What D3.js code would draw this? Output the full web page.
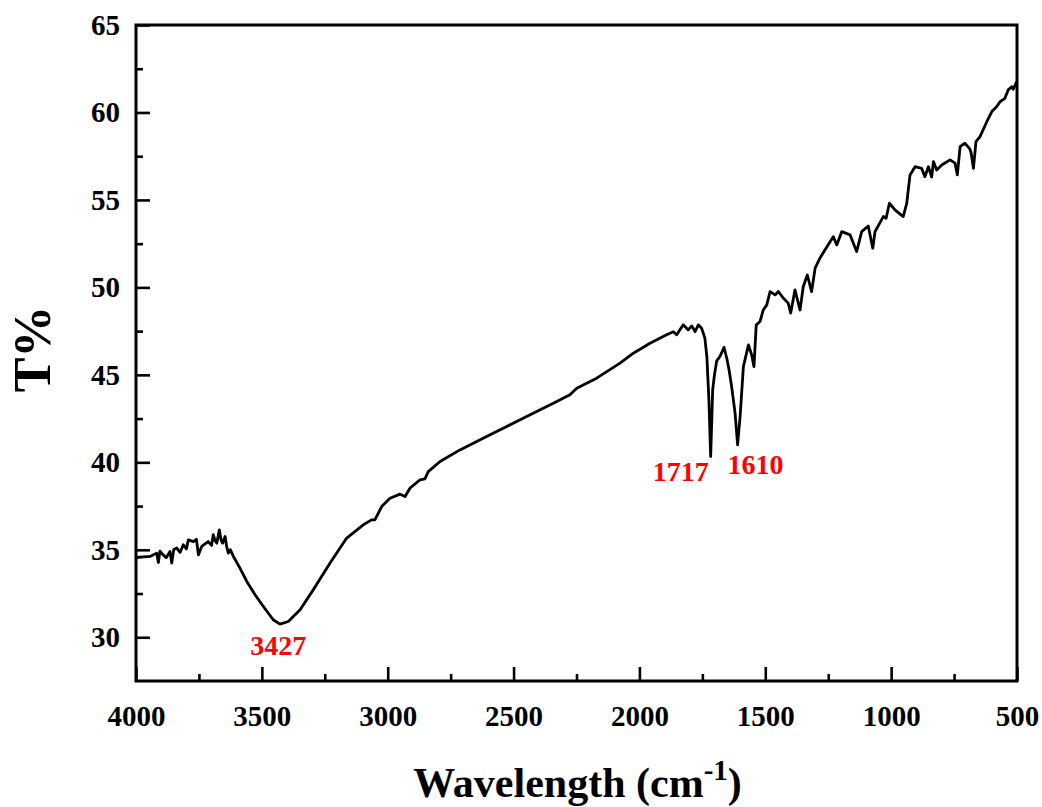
<!DOCTYPE html>
<html>
<head>
<meta charset="utf-8">
<script src="https://cdn.jsdelivr.net/npm/d3@7"></script>
<style>
body { margin: 0; background: #fff; }
text { font-family: "Liberation Serif", "Times New Roman", serif; font-weight: bold; }
</style>
</head>
<body>
<svg id="chart" width="1042" height="807"></svg>
<script>
/* spectrum */
var wavenumber = [3997, 3970, 3944, 3918, 3911, 3905, 3892, 3880, 3865, 3858, 3850, 3838, 3825, 3812, 3800, 3792, 3772, 3760, 3752, 3739,
	3713, 3700, 3693, 3685, 3679, 3669, 3662, 3656, 3646, 3640, 3633, 3625, 3613, 3587, 3560, 3527, 3494, 3455, 3428, 3395, 3348, 3296, 3229,
	3163, 3097, 3064, 3051, 3024, 2991, 2951, 2931, 2911, 2872, 2852, 2839, 2792, 2713, 2607, 2474, 2342, 2276,
	2249, 2170, 2077, 2024, 1958, 1892, 1865, 1852, 1826, 1806, 1792, 1779, 1766, 1753, 1740, 1732, 1724, 1717,
	1709, 1702, 1693, 1680, 1664, 1653, 1644, 1633, 1620, 1610, 1600, 1587, 1567, 1554, 1545, 1536, 1521, 1508,
	1494, 1481, 1461, 1448, 1428, 1409, 1399, 1382, 1362, 1349, 1333, 1316, 1302, 1283, 1263, 1230, 1216, 1196,
	1163, 1137, 1117, 1091, 1073, 1064, 1031, 1020, 1007, 985, 952, 938, 925, 905, 879, 866, 852, 839, 832, 819,
	799, 766, 746, 737, 726, 707, 689, 683, 673, 663, 647, 620, 600, 581, 567, 548, 535, 521, 515, 501];
var transmittance = [34.56, 34.60, 34.62, 34.81, 34.27, 34.92, 34.71, 34.55, 34.90, 34.24, 35.02, 35.10, 34.85, 35.29, 35.05, 35.57, 35.47, 35.60, 34.71, 35.19,
	35.47, 35.25, 35.86, 35.50, 35.38, 36.14, 35.55, 35.38, 35.76, 35.20, 34.81, 35.00, 34.62, 33.95, 33.19, 32.43, 31.76, 31.00, 30.75, 30.90, 31.57, 32.71, 34.24,
	35.67, 36.43, 36.71, 36.71, 37.47, 37.95, 38.18, 38.05, 38.53, 39.00, 39.06, 39.47, 40.05, 40.71, 41.47, 42.43, 43.38, 43.86,
	44.24, 44.81, 45.67, 46.24, 46.81, 47.29, 47.47, 47.29, 47.86, 47.57, 47.80, 47.47, 47.86, 47.67, 47.10, 46.03, 43.57, 40.33,
	44.14, 45.00, 45.80, 46.05, 46.57, 45.95, 45.29, 44.26, 42.81, 41.00, 42.62, 45.47, 46.71, 46.14, 45.47, 47.86, 48.05, 48.71,
	49.00, 49.76, 49.57, 49.76, 49.38, 49.10, 48.53, 49.86, 48.71, 50.05, 50.71, 49.76, 51.10, 51.67, 52.14, 52.90, 52.43, 53.19,
	53.00, 52.05, 53.19, 53.51, 52.24, 53.19, 54.05, 53.95, 54.81, 54.43, 54.05, 54.81, 56.43, 56.90, 56.81, 56.33, 56.90, 56.31, 57.19, 56.71,
	57.00, 57.29, 57.10, 56.43, 58.05, 58.24, 57.95, 57.74, 56.81, 58.33, 58.62, 59.47, 60.05, 60.33, 60.62, 60.81, 61.29, 61.47, 61.33, 61.76];

/* marked bands */
var peakLabels = ["3427", "1717", "1610"];
var peakPos = [3427, 1717, 1610];
var peakT = [30.75, 40.33, 41.00];

var xTicks = [4000, 3500, 3000, 2500, 2000, 1500, 1000, 500];
var yTicks = [30, 35, 40, 45, 50, 55, 60, 65];

function draw(){
	var mLeft = 136, mTop = 25, w = 881, h = 656;
	var labelShift = [[-2, 31], [-30, 24], [18, 29]];

	var svg = d3.select("#chart");
	var g = svg.append("g").attr("transform", "translate(" + mLeft + "," + mTop + ")");

	var x = d3.scaleLinear().domain([4000, 500]).range([0, w]);
	var y = d3.scaleLinear().domain([27.5, 65]).range([h, 0]);

	var xMinor = d3.range(3750, 500, -500);
	var yMinor = d3.range(32.5, 65, 5);

	// minor ticks
	g.append("g")
		.attr("transform", "translate(0," + h + ")")
		.call(d3.axisBottom(x).tickValues(xMinor).tickSize(-7).tickSizeOuter(0).tickFormat(""))
		.call(function(a){ a.select(".domain").remove(); });
	g.append("g")
		.call(d3.axisLeft(y).tickValues(yMinor).tickSize(-7).tickSizeOuter(0).tickFormat(""))
		.call(function(a){ a.select(".domain").remove(); });

	// major ticks + labels
	var xa = g.append("g")
		.attr("transform", "translate(0," + h + ")")
		.call(d3.axisBottom(x).tickValues(xTicks).tickSize(-14).tickSizeOuter(0)
			.tickPadding(24).tickFormat(d3.format("d")));
	xa.select(".domain").remove();
	xa.selectAll("text").attr("font-size", 29).attr("fill", "#000")
		.attr("font-family", "Liberation Serif").attr("font-weight", "bold");

	var ya = g.append("g")
		.call(d3.axisLeft(y).tickValues(yTicks).tickSize(-14).tickSizeOuter(0)
			.tickPadding(16).tickFormat(d3.format("d")));
	ya.select(".domain").remove();
	ya.selectAll("text").attr("font-size", 29).attr("fill", "#000")
		.attr("font-family", "Liberation Serif").attr("font-weight", "bold");

	svg.selectAll(".tick line").attr("stroke", "#000").attr("stroke-width", 2.6);

	// frame
	g.append("rect")
		.attr("width", w).attr("height", h)
		.attr("fill", "none").attr("stroke", "#000").attr("stroke-width", 3);

	// spectrum
	var pts = wavenumber.map(function(d, i){ return [d, transmittance[i]]; });
	var line = d3.line()
		.x(function(d){ return x(d[0]); })
		.y(function(d){ return y(d[1]); });
	g.append("path")
		.datum(pts)
		.attr("d", line)
		.attr("fill", "none")
		.attr("stroke", "#000")
		.attr("stroke-width", 2.8)
		.attr("stroke-linejoin", "round");

	// band labels
	for (var i = 0; i < peakLabels.length; i++){
		g.append("text")
			.attr("x", x(peakPos[i]) + labelShift[i][0])
			.attr("y", y(peakT[i]) + labelShift[i][1])
			.attr("text-anchor", "middle")
			.attr("font-size", 28)
			.attr("fill", "#ff0000")
			.text(peakLabels[i]);
	}

	// axis titles
	var xt = svg.append("text")
		.attr("x", mLeft + w / 2 + 1)
		.attr("y", 797)
		.attr("text-anchor", "middle")
		.attr("font-size", 42);
	xt.append("tspan").text("Wavelength (cm");
	xt.append("tspan").attr("dy", -17).attr("font-size", 29).text("-1");
	xt.append("tspan").attr("dy", 17).text(")");

	svg.append("text")
		.attr("transform", "translate(50,349) rotate(-90)")
		.attr("text-anchor", "middle")
		.attr("font-size", 52)
		.text("T%");
}

draw();
</script>
</body>
</html>
